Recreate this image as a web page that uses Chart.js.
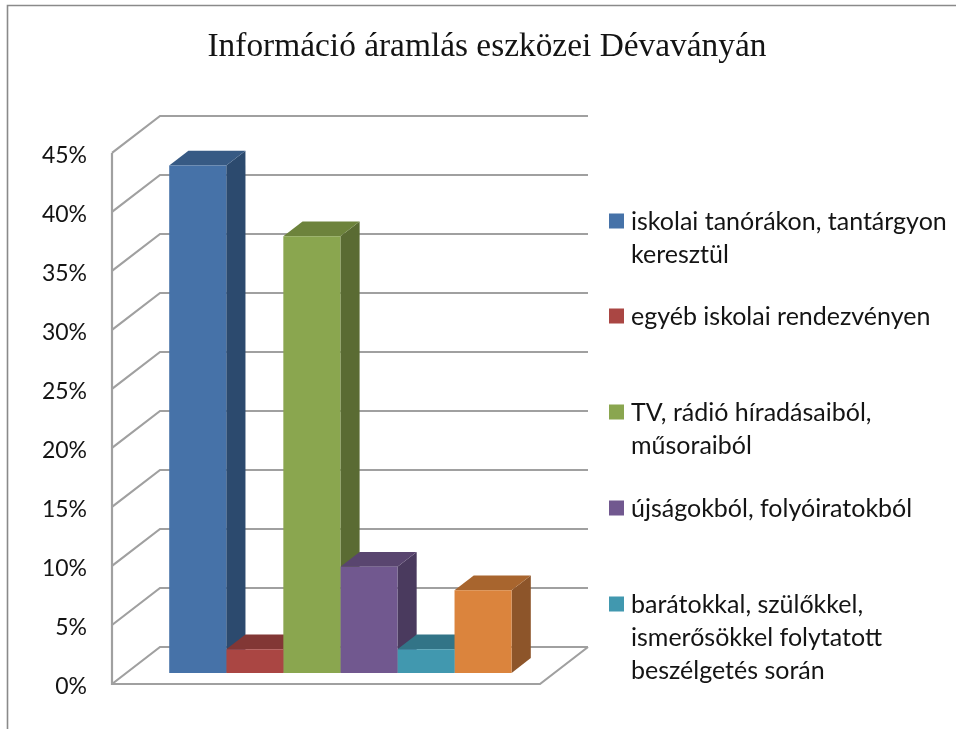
<!DOCTYPE html>
<html><head><meta charset="utf-8">
<style>html,body{margin:0;padding:0;background:#fff}#w{position:relative;width:956px;height:729px}</style>
<script src="https://cdn.jsdelivr.net/npm/chart.js@4"></script>
</head><body><div id="w"><canvas id="c" width="956" height="729"></canvas></div>
<script>
const titleText = 'Információ áramlás eszközei Dévaványán';
const categories = [''];
const seriesValues = [43, 2, 37, 9, 2, 7];
const seriesLabels = [
  ['iskolai tanórákon, tantárgyon', 'keresztül'],
  ['egyéb iskolai rendezvényen'],
  ['TV, rádió híradásaiból,', 'műsoraiból'],
  ['újságokból, folyóiratokból'],
  ['barátokkal, szülőkkel,', 'ismerősökkel folytatott', 'beszélgetés során']
];
const frontColors = ['#4672A8', '#AA4643', '#8AA64F', '#71588F', '#4198AF', '#DB843D'];
const sideColors  = ['#2C4A6E', '#6E2E2C', '#5A6B33', '#4A3A5E', '#2A6373', '#8D552A'];
const topColors   = ['#375A84', '#823735', '#6D833C', '#59456F', '#327487', '#A8652E'];
const legendCenters = [221, 316, 412, 508, 604];

const WALL_X = 48, WALL_Y = 37, FRONT = 0.3, DEPTH = 0.4;
const GRID = '#a0a0a0', FONT = 'Lato, sans-serif', TEXT = '#141414';

const chrome = {
  id: 'chrome',
  afterLayout(chart) {
    const block = chart.titleBlock;
    block.left = 0; block.right = 974;
  },
  beforeDraw(chart) {
    const c = chart.ctx;
    c.save();
    c.strokeStyle = '#8a8a8a'; c.lineWidth = 1.6;
    c.beginPath(); c.moveTo(7.5, 729); c.lineTo(7.5, 5.5); c.lineTo(956, 5.5); c.stroke();
    c.restore();
  },
  beforeDatasetsDraw(chart) {
    const c = chart.ctx, y = chart.scales.y, a = chart.chartArea;
    c.save();
    c.strokeStyle = GRID; c.lineWidth = 2.2; c.lineJoin = 'miter';
    y.ticks.forEach(t => {
      const p = y.getPixelForValue(t.value);
      c.beginPath();
      c.moveTo(a.left, p);
      c.lineTo(a.left + WALL_X, p - WALL_Y);
      c.lineTo(a.right + WALL_X, p - WALL_Y);
      c.stroke();
    });
    const p0 = y.getPixelForValue(0);
    c.beginPath();
    c.moveTo(a.left, y.getPixelForValue(45));
    c.lineTo(a.left, p0);
    c.lineTo(a.right, p0);
    c.lineTo(a.right + WALL_X, p0 - WALL_Y);
    c.stroke();
    const fx = WALL_X * FRONT, fy = WALL_Y * FRONT, dx = WALL_X * DEPTH, dy = WALL_Y * DEPTH;
    c.translate(fx, -fy);
    chart.data.datasets.forEach((ds, i) => {
      const b = chart.getDatasetMeta(i).data[0];
      const l = b.x - b.width / 2, r = b.x + b.width / 2, t = b.y, bt = b.base;
      c.fillStyle = sideColors[i];
      c.beginPath(); c.moveTo(r, t); c.lineTo(r + dx, t - dy); c.lineTo(r + dx, bt - dy); c.lineTo(r, bt); c.closePath(); c.fill();
      c.fillStyle = topColors[i];
      c.beginPath(); c.moveTo(l, t); c.lineTo(l + dx, t - dy); c.lineTo(r + dx, t - dy); c.lineTo(r, t); c.closePath(); c.fill();
    });
  },
  afterDatasetsDraw(chart) {
    chart.ctx.restore();
    const c = chart.ctx;
    c.save();
    c.font = '25px ' + FONT; c.fillStyle = TEXT; c.textBaseline = 'middle'; c.textAlign = 'left';
    seriesLabels.forEach((lines, i) => {
      const cy = legendCenters[i];
      c.fillStyle = frontColors[i];
      c.fillRect(609, cy - 7.5, 15, 15);
      c.fillStyle = TEXT;
      lines.forEach((s, j) => c.fillText(s, 631, cy + 1 + j * 32.8));
    });
    c.restore();
  }
};

new Chart(document.getElementById('c'), {
  type: 'bar',
  data: {
    labels: categories,
    datasets: seriesValues.map((v, i) => ({
      label: seriesLabels[i] ? seriesLabels[i].join(' ') : '',
      data: [v],
      backgroundColor: frontColors[i],
      borderWidth: 0,
      clip: false,
      categoryPercentage: 0.8,
      barPercentage: 1
    }))
  },
  options: {
    responsive: false, animation: false,
    layout: { padding: { left: 22, top: 0, right: 416, bottom: 45 } },
    plugins: {
      legend: { display: false }, tooltip: { enabled: false },
      title: {
        display: true, text: titleText, color: TEXT,
        font: { family: '"Liberation Serif", serif', size: 33.4, weight: 'normal', lineHeight: 1.2 },
        padding: { top: 27, bottom: 85.9 }
      }
    },
    scales: {
      x: { display: false },
      y: {
        min: 0, max: 45,
        afterFit(s) { s.width = 90; },
        border: { display: false },
        grid: { display: false, drawTicks: false },
        ticks: {
          stepSize: 5, padding: 25, color: TEXT, labelOffset: 3,
          font: { family: FONT, size: 23 },
          callback: v => v + '%'
        }
      }
    }
  },
  plugins: [chrome]
});
</script></body></html>
